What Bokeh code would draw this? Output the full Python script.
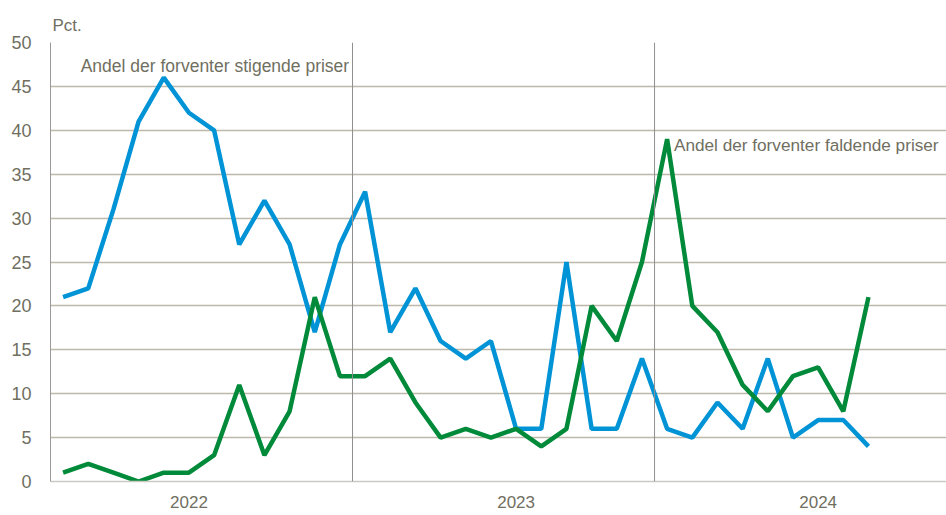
import pandas as pd
from bokeh.plotting import figure
from bokeh.models import Span, Label, FixedTicker, Range1d
from bokeh.embed import file_html
from bokeh.resources import INLINE

months = [d.strftime("%Y-%m") for d in pd.date_range("2022-01-01", "2024-09-01", freq="MS")]
rising = [21, 22, 31, 41, 46, 42, 40, 27, 32, 27, 17, 27,
          33, 17, 22, 16, 14, 16, 6, 6, 25, 6, 6, 14,
          6, 5, 9, 6, 14, 5, 7, 7, 4]
falling = [1, 2, 1, 0, 1, 1, 3, 11, 3, 8, 21, 12,
           12, 14, 9, 5, 6, 5, 6, 4, 6, 20, 16, 25,
           39, 20, 17, 11, 8, 12, 13, 8, 21]
year_labels = ["2022", "2023", "2024"]
y_ticks = list(range(0, 51, 5))
label_rising = "Andel der forventer stigende priser"
label_falling = "Andel der forventer faldende priser"
unit = "Pct."

FONT = "Liberation Sans"
TXT = "#706f5f"
x = list(range(len(months)))

p = figure(width=946, height=510, output_backend="svg", toolbar_location=None,
           x_range=Range1d(-0.5, 35.1), y_range=Range1d(0, 50),
           min_border_left=50, min_border_right=0, min_border_top=42, min_border_bottom=28)
p.outline_line_color = None
p.background_fill_color = "white"
p.border_fill_color = "white"

p.title.text = unit
p.title.text_font = FONT
p.title.text_font_size = "17px"
p.title.text_font_style = "normal"
p.title.text_color = TXT
p.title.align = "left"
p.title.offset = 2
p.title.standoff = 16

# grid
p.xgrid.grid_line_color = None
p.ygrid.grid_line_color = "#bcb9ab"
p.ygrid.grid_line_width = 1.5
p.yaxis.ticker = FixedTicker(ticks=y_ticks)

# axes
p.yaxis.axis_line_color = "#9a9a9a"
p.yaxis.major_tick_line_color = None
p.yaxis.minor_tick_line_color = None
p.yaxis.major_label_text_font = FONT
p.yaxis.major_label_text_font_size = "18px"
p.yaxis.major_label_text_color = TXT
p.yaxis.major_label_standoff = 13

p.xaxis.axis_line_color = "#c9c9c2"
p.xaxis.axis_line_width = 1.5
p.xaxis.major_tick_line_color = None
p.xaxis.minor_tick_line_color = None
year_pos = [5, 18, 30]
p.xaxis.ticker = FixedTicker(ticks=year_pos)
p.xaxis.major_label_overrides = {pos: lab for pos, lab in zip(year_pos, year_labels)}
p.xaxis.major_label_text_font = FONT
p.xaxis.major_label_text_font_size = "17px"
p.xaxis.major_label_text_color = TXT
p.xaxis.major_label_standoff = 8

# year separators
for bx in (11.5, 23.5):
    p.add_layout(Span(location=bx, dimension="height", line_color="#8f8f8f", line_width=1))

p.line(x, rising, line_color="#0093d5", line_width=4.5)
p.line(x, falling, line_color="#008a3a", line_width=4.5)

p.add_layout(Label(x=0.7, y=47.3, text=label_rising, text_font=FONT, text_font_size="17.5px",
                   text_color=TXT, text_baseline="middle", text_align="left"))
p.add_layout(Label(x=24.27, y=38.3, text=label_falling, text_font=FONT, text_font_size="17.2px",
                   text_color=TXT, text_baseline="middle", text_align="left"))

open("out.html", "w").write(file_html(p, INLINE))
